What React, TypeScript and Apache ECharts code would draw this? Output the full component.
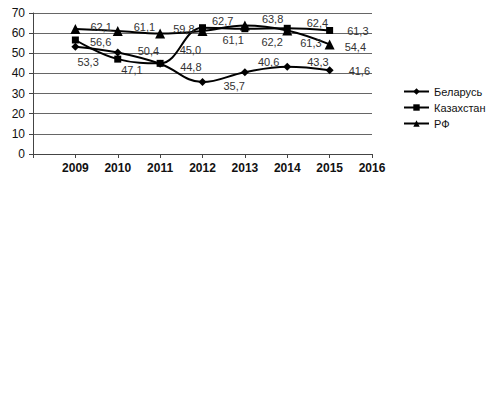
import React, { useEffect, useRef } from "react";
import * as echarts from "echarts";

const years = ["2008", "2009", "2010", "2011", "2012", "2013", "2014", "2015", "2016"];
const yTicks = [0, 10, 20, 30, 40, 50, 60, 70];

const belarus = [53.3, 50.4, 44.8, 35.7, 40.6, 43.3, 41.6];
const kazakhstan = [56.6, 47.1, 45.0, 62.7, 62.2, 62.4, 61.3];
const rf = [62.1, 61.1, 59.8, 61.1, 63.8, 61.3, 54.4];

// label offsets [dx, dy] relative to a right-positioned label
const belarusLabelOffsets = [[-7, 15], [11, -1], [11, 3], [12, 4], [4, -10], [11, -5], [10, 1]];
const kazakhstanLabelOffsets = [[6, 2], [-5, 11], [11, -13], [1, -7], [8, 13], [11, -5], [9, 0]];
const rfLabelOffsets = [[5, -2], [6, -4], [3, -5], [10, 9], [7, -6], [3, 12], [5, 3]];

const FONT = "'Liberation Sans', Arial, sans-serif";

function buildData(values: number[], offsets: number[][]) {
  // first category (2008) is empty
  const out: any[] = [null];
  values.forEach((v, i) => {
    out.push({ value: v, label: { offset: offsets[i] } });
  });
  return out;
}

export default function App() {
  const ref = useRef<HTMLDivElement>(null);
  useEffect(() => {
    if (!ref.current) return;
    const chart = echarts.init(ref.current, null, { renderer: "svg" });
    const labelCfg = {
      show: true,
      position: "right" as const,
      distance: 5,
      fontFamily: FONT,
      fontSize: 11,
      color: "#333",
      formatter: (p: any) => (typeof p.value === "number" ? p.value.toFixed(1).replace(".", ",") : ""),
    };
    const lineCommon = {
      type: "line" as const,
      smooth: 0.4,
      connectNulls: false,
      lineStyle: { color: "#000", width: 2 },
      itemStyle: { color: "#000" },
      label: labelCfg,
    };
    chart.setOption({
      animation: false,
      backgroundColor: "#fff",
      grid: { left: 33, right: 130, top: 13, bottom: 249, containLabel: false },
      legend: {
        orient: "vertical",
        left: 403,
        top: 86,
        padding: 0,
        itemWidth: 25,
        itemHeight: 8,
        itemGap: 5,
        textStyle: { fontFamily: FONT, fontSize: 11, color: "#111" },
        data: ["Беларусь", "Казахстан", "РФ"],
      },
      xAxis: {
        type: "category",
        data: years,
        boundaryGap: false,
        axisLine: { lineStyle: { color: "#444", width: 1 } },
        axisTick: { show: true, length: 4, lineStyle: { color: "#444" }, interval: 0 },
        axisLabel: {
          interval: 0,
          margin: 8,
          fontFamily: FONT,
          fontSize: 12,
          fontWeight: "bold",
          color: "#111",
          formatter: (v: string) => (v === years[0] ? "" : v),
        },
        splitLine: { show: false },
      },
      yAxis: {
        type: "value",
        min: yTicks[0],
        max: yTicks[yTicks.length - 1],
        interval: 10,
        axisLine: { show: true, lineStyle: { color: "#444", width: 1 } },
        axisTick: { show: true, length: 4, lineStyle: { color: "#444" } },
        axisLabel: { margin: 8, fontFamily: FONT, fontSize: 12, color: "#111" },
        splitLine: { show: true, lineStyle: { color: "#666", width: 1 } },
      },
      series: [
        {
          ...lineCommon,
          name: "Беларусь",
          symbol: "diamond",
          symbolSize: 8,
          data: buildData(belarus, belarusLabelOffsets),
        },
        {
          ...lineCommon,
          name: "Казахстан",
          symbol: "rect",
          symbolSize: 7,
          data: buildData(kazakhstan, kazakhstanLabelOffsets),
        },
        {
          ...lineCommon,
          name: "РФ",
          symbol: "triangle",
          symbolSize: 10,
          data: buildData(rf, rfLabelOffsets),
        },
      ],
    });
    return () => chart.dispose();
  }, []);
  return <div ref={ref} style={{ width: 502, height: 403, margin: -8 }} />;
}
